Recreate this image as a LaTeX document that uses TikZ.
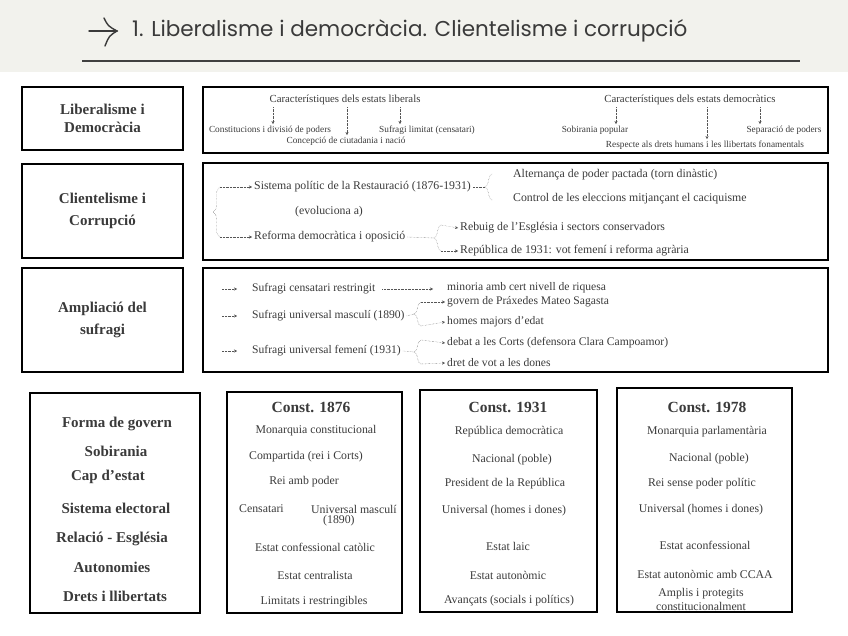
\documentclass[tikz,border=0pt]{standalone}
\usepackage{fontspec}
\setmainfont{Liberation Serif}
\newfontfamily\headfont{Poppins}
\usetikzlibrary{arrows.meta,decorations.pathreplacing,calc}

\definecolor{headbg}{RGB}{242,242,237}
\definecolor{inkgray}{RGB}{58,58,58}
\definecolor{dotgray}{RGB}{85,85,85}

\tikzset{
  panel/.style={draw=black, line width=1.8pt},
  rowlabel/.style={font=\fontsize{15}{18}\selectfont\bfseries, text=inkgray, align=center},
  coltitle/.style={font=\fontsize{15.5}{18}\selectfont\bfseries, text=inkgray},
  item/.style={font=\fontsize{11.8}{14}\selectfont, text=inkgray, inner sep=2pt},
  itemsm/.style={font=\fontsize{11.6}{14}\selectfont, text=inkgray, inner sep=2pt},
  headline/.style={font=\fontsize{10.8}{13}\selectfont, text=inkgray, inner sep=2pt},
  tiny/.style={font=\fontsize{9.3}{11}\selectfont, text=inkgray, inner sep=1.5pt},
  dotarrow/.style={draw=dotgray, densely dotted, -{Stealth[length=3pt,width=3pt]}},
  dotline/.style={draw=dotgray, densely dotted},
  dotbrace/.style={draw=dotgray, densely dotted, decorate, decoration={brace,amplitude=7pt}},
}

\begin{document}
\begin{tikzpicture}[x=1pt, y=-1pt]
    \useasboundingbox (0,0) rectangle (848,636);

    % Header
    \fill[headbg] (0,0) rectangle (848,72);
    \draw[inkgray, line width=1.4pt, line cap=round] (89,31) -- (117,31);
    \draw[inkgray, line width=1.4pt, line cap=round] (104,18) .. controls (108,26) .. (117,31) .. controls (109,36) .. (105,46);
    \node[anchor=west, font=\headfont\fontsize{21.5}{24}\selectfont, text=inkgray, inner sep=0pt] (title) at (132,31) {1. Liberalisme i democràcia. Clientelisme i corrupció};
    \draw[black!75, line width=1.2pt] (82,61) -- (800,61);

    % Row labels
    \node[panel, rowlabel, minimum width=161pt, minimum height=63pt] (liblab) at (102.5,118.5) {Liberalisme i\\Democràcia};
    \node[panel, rowlabel, minimum width=161pt, minimum height=94pt] (clilab) at (102.5,211) {Clientelisme i\\[4pt]Corrupció};
    \node[panel, rowlabel, minimum width=161pt, minimum height=104pt] (sufrlab) at (102.5,320) {Ampliació del\\[4pt]sufragi};

    % Row panels
    \node[panel, minimum width=625pt, minimum height=66pt] (libbox) at (515.5,120) {};
    \node[panel, minimum width=625pt, minimum height=97pt] (clibox) at (515.5,211.5) {};
    \node[panel, minimum width=625pt, minimum height=104pt] (sufrbox) at (515.5,320) {};

    % Liberal / democratic states
    \node[headline] (carlib) at (345,100) {Característiques dels estats liberals};
    \node[tiny] (constit) at (270,130) {Constitucions i divisió de poders};
    \node[tiny] (ciutad) at (346,141) {Concepció de ciutadania i nació};
    \node[tiny] (sufrlim) at (427,130) {Sufragi limitat (censatari)};
    \draw[dotarrow] (carlib.south -| 273,0) -- (constit.north -| 273,0);
    \draw[dotarrow] (carlib.south -| 347,0) -- (ciutad.north -| 347,0);
    \draw[dotarrow] (carlib.south -| 400,0) -- (sufrlim.north -| 400,0);

    \node[headline] (cardem) at (690,100) {Característiques dels estats democràtics};
    \node[tiny] (sobir) at (595,130) {Sobirania popular};
    \node[tiny] (separ) at (784,130) {Separació de poders};
    \node[tiny] (respec) at (705,145) {Respecte als drets humans i les llibertats fonamentals};
    \draw[dotarrow] (cardem.south -| 616,0) -- (sobir.north -| 616,0);
    \draw[dotarrow] (cardem.south -| 707,0) -- (respec.north -| 707,0);
    \draw[dotarrow] (cardem.south -| 760,0) -- (separ.north -| 760,0);

    % Clientelism
    \coordinate (bt) at (220,187);
    \coordinate (bb) at (220,237);
    \draw[dotbrace] (bb) -- (bt);
    \node[item, anchor=west] (sistema) at (252,187) {Sistema polític de la Restauració (1876-1931)};
    \node[item] (evol) at (329,212) {(evoluciona a)};
    \node[item, anchor=west] (reforma) at (252,237) {Reforma democràtica i oposició};
    \draw[dotarrow] (bt) -- (sistema.west);
    \draw[dotarrow] (bb) -- (reforma.west);

    \coordinate (b2t) at (492,174);
    \coordinate (b2b) at (492,200);
    \coordinate (b2tip) at (485,187);
    \draw[dotbrace] (b2b) -- (b2t);
    \draw[dotline] (sistema.east) -- (b2tip);
    \node[item, anchor=west] (altern) at (511,175) {Alternança de poder pactada (torn dinàstic)};
    \node[item, anchor=west] (control) at (511,199) {Control de les eleccions mitjançant el caciquisme};

    \coordinate (b3t) at (441,225);
    \coordinate (b3b) at (441,251);
    \coordinate (b3tip) at (434,238);
    \draw[dotbrace] (b3b) -- (b3t);
    \draw[dotline] (reforma.east) -- (b3tip);
    \node[item, anchor=west] (rebuig) at (458,228) {Rebuig de l'Església i sectors conservadors};
    \node[item, anchor=west] (republica) at (458,251) {República de 1931: vot femení i reforma agrària};
    \draw[dotarrow] (b3t) -- (rebuig.west);
    \draw[dotarrow] (b3b) -- (republica.west);

    % Suffrage
    \node[itemsm, anchor=west] (cens) at (250,289) {Sufragi censatari restringit};
    \node[itemsm, anchor=west] (masc) at (250,316) {Sufragi universal masculí (1890)};
    \node[itemsm, anchor=west] (femen) at (250,351) {Sufragi universal femení (1931)};
    \draw[dotarrow] ([xshift=-28pt]cens.west) -- ([xshift=-13pt]cens.west);
    \draw[dotarrow] ([xshift=-28pt]masc.west) -- ([xshift=-13pt]masc.west);
    \draw[dotarrow] ([xshift=-28pt]femen.west) -- ([xshift=-13pt]femen.west);

    \node[itemsm, anchor=west] (minoria) at (445,288) {minoria amb cert nivell de riquesa};
    \draw[dotarrow] ([xshift=5pt]cens.east) -- ([xshift=-12pt]minoria.west |- cens.east);

    \coordinate (b4t) at (421,302);
    \coordinate (b4b) at (421,326);
    \coordinate (b4tip) at (414,314);
    \draw[dotbrace] (b4b) -- (b4t);
    \draw[dotline] (masc.east) -- (b4tip);
    \node[itemsm, anchor=west] (govern) at (445,302) {govern de Práxedes Mateo Sagasta};
    \node[itemsm, anchor=west] (homes) at (445,322) {homes majors d'edat};
    \draw[dotarrow] (b4t) -- (govern.west);
    \draw[dotarrow] (b4b) -- (homes.west);

    \coordinate (b5t) at (421,340);
    \coordinate (b5b) at (421,364);
    \coordinate (b5tip) at (414,352);
    \draw[dotbrace] (b5b) -- (b5t);
    \draw[dotline] (femen.east) -- (b5tip);
    \node[itemsm, anchor=west] (debat) at (445,343) {debat a les Corts (defensora Clara Campoamor)};
    \node[itemsm, anchor=west] (dret) at (445,363) {dret de vot a les dones};
    \draw[dotarrow] (b5t) -- (debat.west);
    \draw[dotarrow] (b5b) -- (dret.west);

    % Constitutions table
    \node[panel, minimum width=170pt, minimum height=220pt] (aspects) at (115,503) {};
    \node[panel, minimum width=175pt, minimum height=221pt] (c76) at (314.5,502.5) {};
    \node[panel, minimum width=177pt, minimum height=222pt] (c31) at (508.5,501) {};
    \node[panel, minimum width=175pt, minimum height=224pt] (c78) at (704.5,500) {};

    \node[rowlabel] (forma) at (117,424) {Forma de govern};
    \node[rowlabel] (sobirania) at (116,451) {Sobirania};
    \node[rowlabel] (cap) at (108,477) {Cap d'estat};
    \node[rowlabel] (sistel) at (116,508) {Sistema electoral};
    \node[rowlabel] (esglesia) at (112,539) {Relació - Església};
    \node[rowlabel] (autonom) at (112,567) {Autonomies};
    \node[rowlabel] (drets) at (115,596) {Drets i llibertats};

    \node[coltitle] (t76) at (311,407) {Const. 1876};
    \node[item] (a76) at (316,431) {Monarquia constitucional};
    \node[item] (b76) at (306,457) {Compartida (rei i Corts)};
    \node[item] (c76cap) at (304,482) {Rei amb poder};
    \node[item, anchor=west] (d76a) at (237,509) {Censatari};
    \node[item, anchor=west] (d76b) at (309,509) {Universal masculí};
    \node[item, anchor=west] (d76c) at (321,521) {(1890)};
    \node[item] (e76) at (315,547) {Estat confessional catòlic};
    \node[item] (f76) at (315,575) {Estat centralista};
    \node[item] (g76) at (314,602) {Limitats i restringibles};

    \node[coltitle] (t31) at (508,407) {Const. 1931};
    \node[item] (a31) at (509,432) {República democràtica};
    \node[item] (b31) at (512,460) {Nacional (poble)};
    \node[item] (c31cap) at (505,484) {President de la República};
    \node[item] (d31) at (504,511) {Universal (homes i dones)};
    \node[item] (e31) at (508,546) {Estat laic};
    \node[item] (f31) at (508,575) {Estat autonòmic};
    \node[item] (g31) at (509,601) {Avançats (socials i polítics)};

    \node[coltitle] (t78) at (707,407) {Const. 1978};
    \node[item] (a78) at (707,432) {Monarquia parlamentària};
    \node[item] (b78) at (709,459) {Nacional (poble)};
    \node[item] (c78cap) at (702,484) {Rei sense poder polític};
    \node[item] (d78) at (701,510) {Universal (homes i dones)};
    \node[item] (e78) at (705,545) {Estat aconfessional};
    \node[item] (f78) at (705,574) {Estat autonòmic amb CCAA};
    \node[item, align=center, font=\fontsize{11.8}{14}\selectfont] (g78) at (701,599) {Amplis i protegits\\constitucionalment};
\end{tikzpicture}
\end{document}
